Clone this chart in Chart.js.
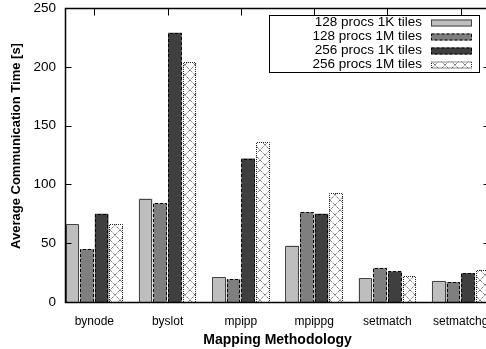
<!DOCTYPE html>
<html>
<head>
<meta charset="utf-8">
<script src="https://cdn.jsdelivr.net/npm/chart.js@4/dist/chart.umd.min.js"></script>
<style>
  html, body { margin: 0; padding: 0; background: #fff; overflow: hidden; }
  #wrap { width: 496px; height: 349px; }
</style>
</head>
<body>
<div id="wrap"><canvas id="commChart"></canvas></div>
<script>
// Mapping methods and average communication time [s]
var methods = ['bynode', 'byslot', 'mpipp', 'mpippg', 'setmatch', 'setmatchg'];
var procs128k = [66, 88, 21, 48, 20, 18];
var procs128m = [45, 84, 19.5, 76.5, 29, 17];
var procs256k = [75, 229, 122, 75, 26, 24.5];
var procs256m = [66, 204, 136, 93, 22, 27.5];
var yTicks = [0, 50, 100, 150, 200, 250];
var seriesNames = ['128 procs 1K tiles', '128 procs 1M tiles', '256 procs 1K tiles', '256 procs 1M tiles'];
var yTitle = 'Average Communication Time [s]';

// crosshatch fill for the last series
function makeHatch() {
    var c = document.createElement('canvas');
    c.width = 10; c.height = 10;
    var g = c.getContext('2d');
    g.fillStyle = '#fff';
    g.fillRect(0, 0, 10, 10);
    g.strokeStyle = '#444';
    g.lineWidth = 1;
    g.setLineDash([1, 1]);
    g.beginPath();
    g.moveTo(0, 0); g.lineTo(10, 10);
    g.moveTo(10, 0); g.lineTo(0, 10);
    g.stroke();
    return g.createPattern(c, 'repeat');
}
var hatch = makeHatch();

var fills = ['#bebebe', '#7f7f7f', '#3f3f3f', hatch];
var edges = ['#444', '#000', '#000', '#222'];
var dashes = [[], [3, 2], [3, 2], [1, 1]];

function points(vals) {
    return methods.map(function (m, i) { return { x: i, y: vals[i] }; });
}

// dashed bar outlines
var barEdges = {
    id: 'barEdges',
    afterDatasetsDraw: function (chart) {
        var ctx = chart.ctx;
        ctx.save();
        chart.data.datasets.forEach(function (ds, di) {
            var meta = chart.getDatasetMeta(di);
            ctx.strokeStyle = edges[di];
            ctx.lineWidth = 1;
            ctx.setLineDash(dashes[di]);
            meta.data.forEach(function (bar) {
                var p = bar.getProps(['x', 'y', 'base', 'width'], true);
                var l = Math.round(p.x - p.width / 2) + 0.5;
                var r = Math.round(p.x + p.width / 2) - 0.5;
                var t = Math.round(p.y) + 0.5;
                var b = Math.round(p.base);
                ctx.beginPath();
                ctx.moveTo(l, b); ctx.lineTo(l, t); ctx.lineTo(r, t); ctx.lineTo(r, b);
                ctx.stroke();
            });
        });
        ctx.restore();
    }
};

// gnuplot style frame with inward ticks, y title, boxed legend
var frame = {
    id: 'frame',
    afterDraw: function (chart) {
        var ctx = chart.ctx, ca = chart.chartArea;
        var xs = chart.scales.x, ys = chart.scales.y;
        ctx.save();
        ctx.strokeStyle = '#000';
        ctx.lineWidth = 1;
        var L = Math.round(ca.left) + 0.5, R = Math.round(ca.right) - 0.5;
        var T = Math.round(ca.top) + 0.5, B = Math.round(ca.bottom) + 0.5;
        ctx.beginPath();
        yTicks.forEach(function (v) {
            var y = Math.round(ys.getPixelForValue(v)) + 0.5;
            ctx.moveTo(L, y); ctx.lineTo(L + 6, y);
            ctx.moveTo(R, y); ctx.lineTo(R - 6, y);
        });
        methods.forEach(function (m, i) {
            var x = Math.round(xs.getPixelForValue(i)) + 0.5;
            ctx.moveTo(x, T); ctx.lineTo(x, T + 7);
        });
        ctx.stroke();
        ctx.lineWidth = 1.5;
        ctx.strokeRect(L, T, R - L, B - T);

        // y axis title
        ctx.save();
        ctx.translate(16, 146);
        ctx.rotate(-Math.PI / 2);
        ctx.fillStyle = '#000';
        ctx.font = 'bold 13px "Liberation Sans", Arial, sans-serif';
        ctx.textAlign = 'center';
        ctx.textBaseline = 'middle';
        ctx.fillText(yTitle, 0, 0);
        ctx.restore();

        // legend
        var lr = Math.round(ca.right) - 11, lt = Math.round(ca.top) + 7;
        ctx.fillStyle = '#fff';
        ctx.fillRect(lr - 210, lt, 210, 57);
        ctx.lineWidth = 1;
        ctx.strokeRect(lr - 210 + 0.5, lt + 0.5, 210, 57);
        ctx.font = '13.5px "Liberation Sans", Arial, sans-serif';
        ctx.textAlign = 'right';
        ctx.textBaseline = 'middle';
        seriesNames.forEach(function (name, i) {
            var cy = lt + 7.5 + i * 14;
            ctx.fillStyle = '#000';
            ctx.fillText(name, lr - 57, cy);
            ctx.fillStyle = fills[i];
            ctx.fillRect(lr - 48, cy - 3, 41, 7);
            ctx.strokeStyle = edges[i];
            ctx.setLineDash(dashes[i]);
            ctx.strokeRect(lr - 48 + 0.5, cy - 3 + 0.5, 40, 6);
            ctx.setLineDash([]);
        });
        ctx.restore();
    }
};

var ctx = document.getElementById('commChart').getContext('2d');
var commChart = new Chart(ctx, {
    type: 'bar',
    data: {
        datasets: seriesNames.map(function (name, i) {
            return {
                label: name,
                data: points([procs128k, procs128m, procs256k, procs256m][i]),
                backgroundColor: fills[i],
                borderWidth: 0,
                categoryPercentage: 0.8,
                barPercentage: 0.93
            };
        })
    },
    options: {
        responsive: true,
        maintainAspectRatio: false,
        animation: false,
        layout: { padding: { top: 8, right: 6, left: 0, bottom: 0 } },
        plugins: {
            legend: { display: false },
            tooltip: { enabled: false }
        },
        scales: {
            x: {
                type: 'linear',
                offset: false,
                min: -0.4,
                max: 5.4,
                afterBuildTicks: function (s) {
                    s.ticks = methods.map(function (m, i) { return { value: i }; });
                },
                afterFit: function (s) {
                    s.height = 47;
                    s.paddingLeft = 0; s.paddingRight = 0;
                },
                grid: { display: false, drawTicks: false },
                border: { display: false },
                ticks: {
                    color: '#000',
                    font: { family: 'Liberation Sans', size: 12 },
                    padding: 12,
                    callback: function (v) { return methods[v]; }
                },
                title: {
                    display: true,
                    text: 'Mapping Methodology',
                    color: '#000',
                    font: { family: 'Liberation Sans', size: 14, weight: 'bold' },
                    padding: { top: 3, bottom: 0 }
                }
            },
            y: {
                min: 0,
                max: 250,
                afterBuildTicks: function (s) {
                    s.ticks = yTicks.map(function (v) { return { value: v }; });
                },
                afterFit: function (s) {
                    s.width = 65;
                    s.paddingTop = 0; s.paddingBottom = 0;
                },
                grid: { display: false, drawTicks: false },
                border: { display: false },
                ticks: {
                    color: '#000',
                    font: { family: 'Liberation Sans', size: 13.5 },
                    padding: 9
                }
            }
        }
    },
    plugins: [barEdges, frame]
});
</script>
</body>
</html>
